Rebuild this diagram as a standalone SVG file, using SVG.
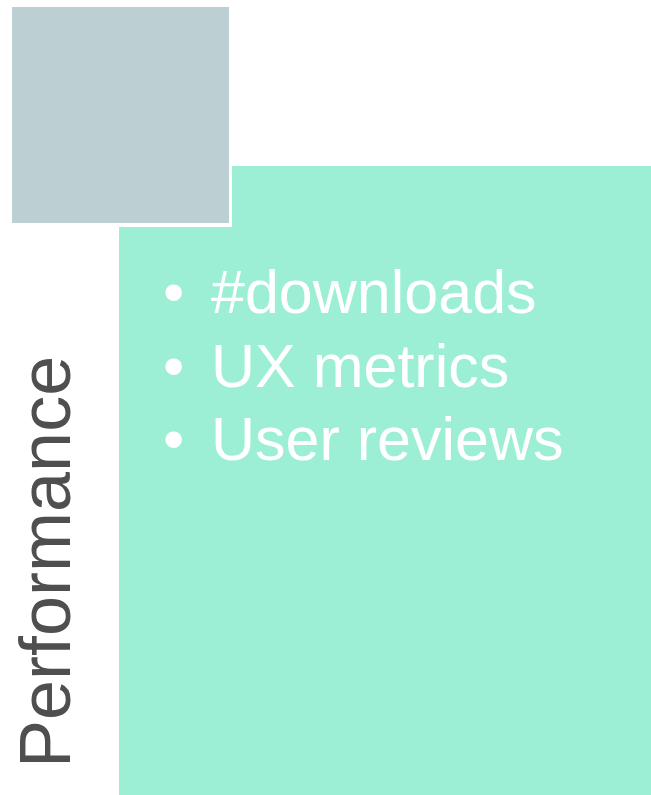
<svg xmlns="http://www.w3.org/2000/svg" width="651" height="795" viewBox="0 0 651 795">
<style>
.bul{font-family:"Liberation Sans",Arial,sans-serif;font-size:61px;fill:#ffffff}
.ttl{font-family:"Liberation Sans",Arial,sans-serif;font-size:72px;fill:#4f4f4f}
</style>
<rect width="651" height="795" fill="#ffffff"/>
<g id="content-box">
<rect x="119" y="166" width="532" height="629" fill="#9cefd4"/>
<text class="bul" x="163" y="313">•</text>
<text class="bul" x="211" y="313">#downloads</text>
<text class="bul" x="163" y="387">•</text>
<text class="bul" x="211" y="387">UX metrics</text>
<text class="bul" x="163" y="460">•</text>
<text class="bul" x="211" y="460">User reviews</text>
</g>
<g id="gray-square">
<rect x="9" y="4" width="223" height="223" fill="#ffffff"/>
<rect x="12" y="7" width="217" height="216" fill="#bccfd2"/>
</g>
<g id="title">
<text class="ttl" transform="translate(70,768) rotate(-90)">Performance</text>
</g>
<g id="connectors"></g>
</svg>
